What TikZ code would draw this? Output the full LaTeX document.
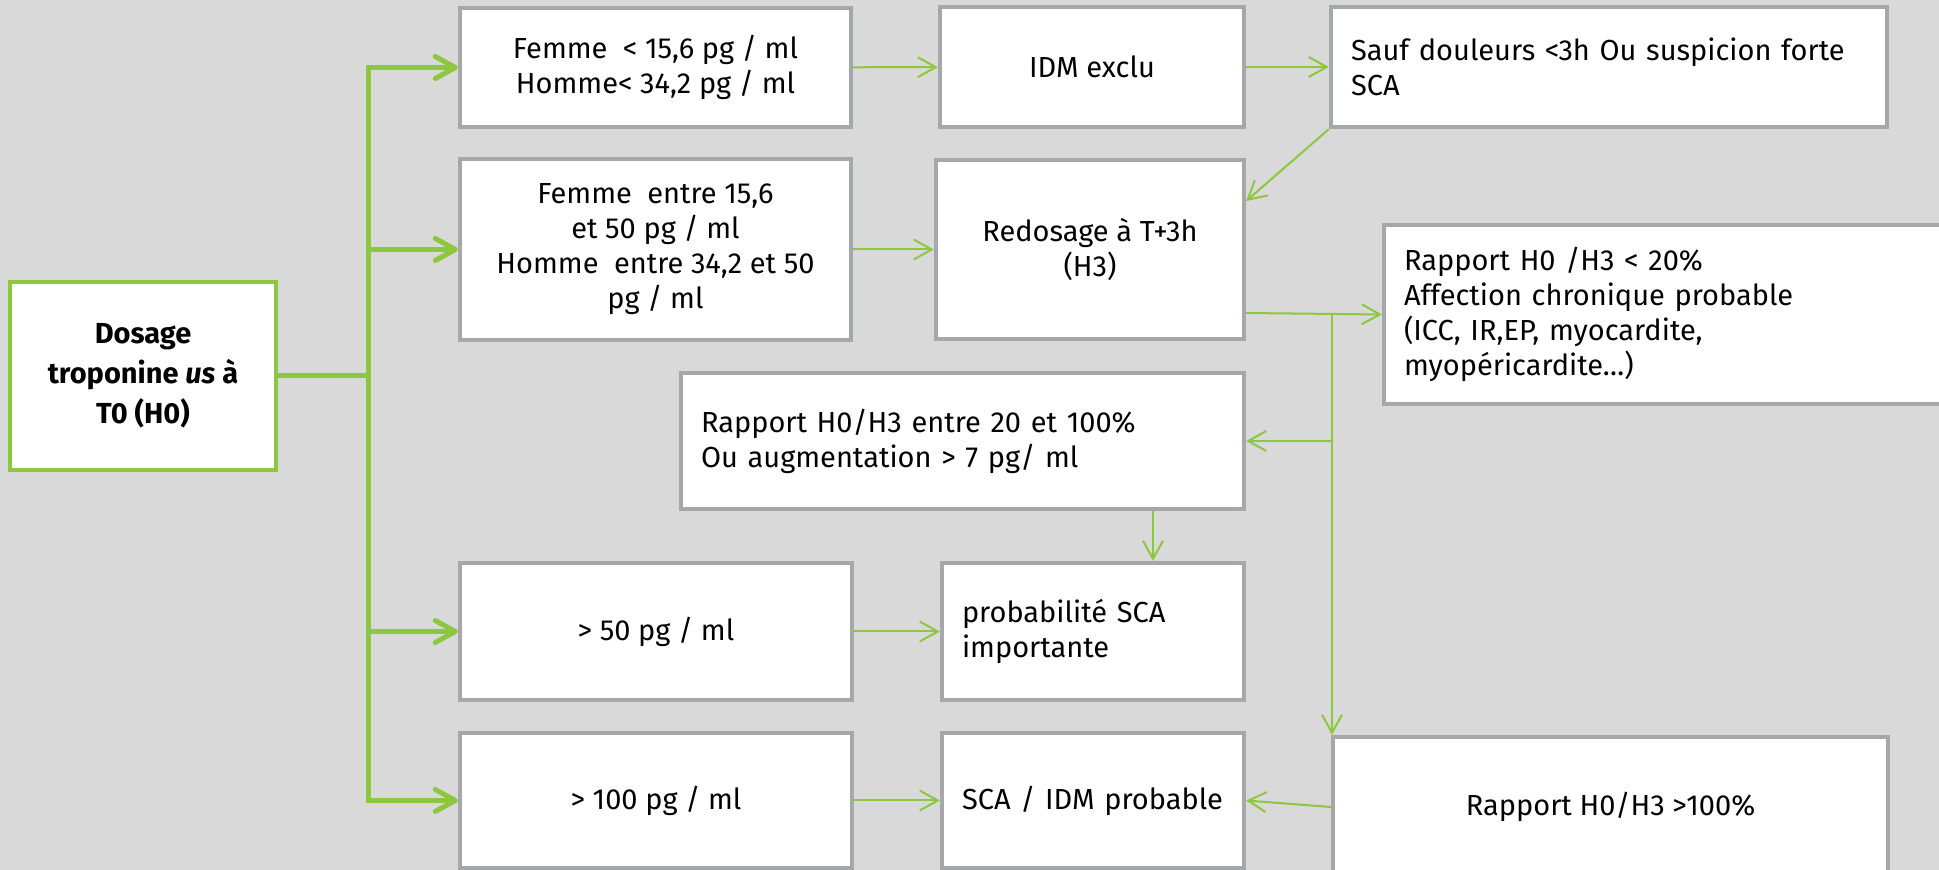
\documentclass[tikz,border=0pt]{standalone}
\usepackage{fontspec}
\setmainfont{Fira Sans}
\usetikzlibrary{arrows.meta}
\definecolor{bgc}{RGB}{217,217,217}
\definecolor{gr}{RGB}{141,198,63}
\definecolor{bd}{RGB}{166,167,171}
\begin{document}
\begin{tikzpicture}[x=0.5pt,y=-0.5pt,
  box/.style={draw=bd, line width=2.2pt, fill=white, inner sep=0pt, text=black,
    font=\fontsize{14.5}{17.5}\selectfont, align=center},
  lbox/.style={box, align=left, inner xsep=10pt},
  mainbox/.style={box, draw=gr, line width=2.3pt, font=\fontsize{14.5}{20}\selectfont\bfseries},
  thinarr/.style={draw=gr, line width=1pt, -{Straight Barb[length=9pt,width=10pt]}},
  thickline/.style={draw=gr, line width=2.5pt},
  thickarr/.style={thickline, line join=miter, -{Straight Barb[length=10pt,width=11pt,round]}}]
\fill[bgc] (0,0) rectangle (1939,870);
\useasboundingbox (0,0) rectangle (1939,870);

% left column
\node[mainbox, minimum width=133pt, minimum height=94pt] (dosage) at (143,376)
  {Dosage\\troponine \textit{us} à\\T0 (H0)};

\node[box, minimum width=195.5pt, minimum height=59.5pt] (box1) at (655.5,67.5)
  {Femme~ < 15,6 pg / ml\\Homme< 34,2 pg / ml};
\node[box, minimum width=195.5pt, minimum height=90.5pt] (box2) at (655.5,249.5)
  {Femme~ entre 15,6\\et 50 pg / ml\\Homme~ entre 34,2 et 50\\pg / ml};
\node[box, minimum width=196pt, minimum height=68.5pt] (box50) at (656,631.5)
  {> 50 pg / ml};
\node[box, minimum width=196pt, minimum height=67.5pt] (box100) at (656,800.5)
  {> 100 pg / ml};

% middle column
\node[box, minimum width=152pt, minimum height=60pt] (idm) at (1092,67) {IDM exclu};
\node[box, minimum width=154pt, minimum height=89.5pt] (redos) at (1090,249.5)
  {Redosage à T+3h\\(H3)};
\node[lbox, text width=261.5pt, minimum height=68pt] (entre) at (962.5,441)
  {Rapport H0/H3 entre 20 et 100\%\\Ou augmentation > 7 pg/ ml};
\node[lbox, text width=131pt, minimum height=68.5pt] (proba) at (1093,631.5)
  {probabilité SCA\\importante};
\node[lbox, text width=131pt, minimum height=67.5pt] (scaidm) at (1093,800.5)
  {SCA / IDM probable};

% right column
\node[lbox, text width=258pt, minimum height=60pt] (sauf) at (1609,67)
  {Sauf douleurs <3h Ou suspicion forte\\SCA};
\node[lbox, text width=268pt, minimum height=89.5pt] (rap20) at (1672,314.5)
  {Rapport H0 /H3 < 20\%\\Affection chronique probable\\(ICC, IR,EP, myocardite,\\myopéricardite…)};
\node[box, minimum width=277.5pt, minimum height=70pt] (rap100) at (1610.5,807)
  {Rapport H0/H3 >100\%};

% thick connectors
\coordinate (j) at (368,376);
\draw[thickline] (dosage.east) -- (j);
\foreach \b in {box1,box2,box50,box100}
  \draw[thickarr] (j) |- (\b);

% thin connectors
\draw[thinarr] (box1) -- (idm);
\draw[thinarr] (idm) -- (sauf);
\draw[thinarr] (box2) -- (redos);
\draw[thinarr] (sauf.south west) -- ([yshift=24.25pt]redos.east);
\draw[thinarr] ([yshift=-31.75pt]redos.east) -- (rap20.west);
\coordinate (v) at (1332,313);
\draw[thinarr] (v) -- (v |- rap100.north);
\draw[thinarr] (v |- entre.east) -- (entre.east);
\coordinate (q) at (1153,441);
\draw[thinarr] (entre.south -| q) -- (proba.north -| q);
\draw[thinarr] (box50) -- (proba);
\draw[thinarr] (box100) -- (scaidm);
\draw[thinarr] (rap100.west) -- (scaidm.east);
\end{tikzpicture}
\end{document}
